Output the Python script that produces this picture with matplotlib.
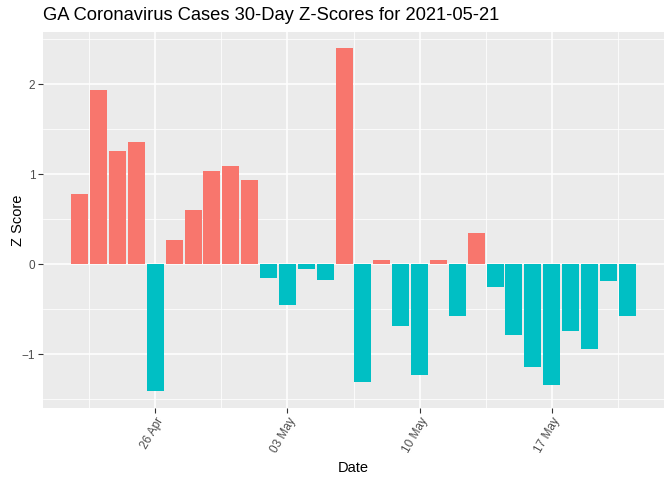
import numpy as np
import pandas as pd
import matplotlib
matplotlib.use("Agg")
import matplotlib.pyplot as plt
import matplotlib.dates as mdates

plt.rcParams['font.family'] = ['Liberation Sans', 'DejaVu Sans']

# daily z-scores, 2021-04-22 .. 2021-05-21
dates = pd.date_range("2021-04-22", "2021-05-21", freq="D")
zscores = [0.78, 1.94, 1.26, 1.36, -1.41, 0.27, 0.60, 1.04, 1.09, 0.94,
           -0.15, -0.45, -0.06, -0.18, 2.40, -1.31, 0.04, -0.69, -1.23, 0.04,
           -0.58, 0.34, -0.25, -0.79, -1.14, -1.34, -0.74, -0.94, -0.19, -0.58]
tick_dates = pd.to_datetime(["2021-04-26", "2021-05-03", "2021-05-10", "2021-05-17"])
minor_dates = pd.to_datetime(["2021-04-22 12:00", "2021-04-29 12:00", "2021-05-06 12:00",
                              "2021-05-13 12:00", "2021-05-20 12:00"])

fig = plt.figure(figsize=(6.72, 4.8), dpi=100)
ax = fig.add_axes([43/672, 1-408/480, (664-43)/672, (408-32)/480])
ax.set_facecolor("#EBEBEB")

colors = ["#F8766D" if z > 0 else "#00BFC4" for z in zscores]
ax.bar(dates, zscores, width=0.9, color=colors, zorder=3)

ax.set_xlim(dates[0] - pd.Timedelta(days=1.95), dates[-1] + pd.Timedelta(days=1.95))
ax.set_ylim(-1.6, 2.58)

ax.set_xticks(tick_dates)
ax.set_xticks(minor_dates, minor=True)
ax.xaxis.set_major_formatter(mdates.DateFormatter("%d %b"))
ax.set_yticks([-1, 0, 1, 2])
ax.set_yticks([-1.5, -0.5, 0.5, 1.5, 2.5], minor=True)

ax.grid(which="major", color="white", linewidth=1.1, zorder=0)
ax.grid(which="minor", color="white", linewidth=0.55, zorder=0)
ax.set_axisbelow(True)
for s in ax.spines.values():
    s.set_visible(False)

ax.tick_params(which="major", length=3.5, width=0.8, color="#333333",
               labelcolor="#4D4D4D", labelsize=8.5, pad=2)
ax.tick_params(which="minor", length=0)
plt.setp(ax.get_xticklabels(), rotation=60, ha="right", va="top", rotation_mode="anchor")

ax.set_xlabel("Date", fontsize=10.5, labelpad=4)
ax.set_ylabel("Z Score", fontsize=10.5)
ax.yaxis.set_label_coords(-(43-25)/621, 0.5)
fig.text(43/672, 1-16/480, "GA Coronavirus Cases 30-Day Z-Scores for 2021-05-21",
         fontsize=13.2, va="center", ha="left")

fig.savefig("out.png", dpi=100)
